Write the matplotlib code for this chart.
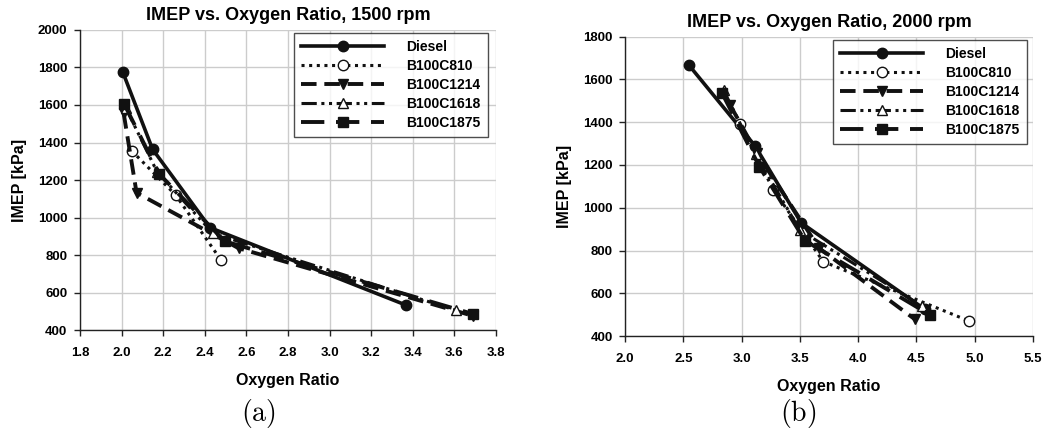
import matplotlib
matplotlib.use("Agg")
import matplotlib.pyplot as plt

plt.rcParams['font.family'] = ['Liberation Sans', 'DejaVu Sans']
plt.rcParams['mathtext.fontset'] = 'cm'

series_names = ["Diesel", "B100C810", "B100C1214", "B100C1618", "B100C1875"]

# 1500 rpm
x1500_diesel = [2.005, 2.149, 2.425, 3.367]
y1500_diesel = [1778, 1364, 946, 533]
x1500_c810 = [2.048, 2.260, 2.478]
y1500_c810 = [1356, 1120, 773]
x1500_c1214 = [2.010, 2.072, 2.563, 3.691]
y1500_c1214 = [1556, 1132, 836, 475]
x1500_c1618 = [2.020, 2.170, 2.440, 3.608]
y1500_c1618 = [1585, 1245, 915, 505]
x1500_c1875 = [2.013, 2.181, 2.496, 3.691]
y1500_c1875 = [1604, 1232, 873, 485]

# 2000 rpm
x2000_diesel = [2.548, 3.116, 3.510, 4.572]
y2000_diesel = [1667, 1289, 930, 525]
x2000_c810 = [2.988, 3.273, 3.701, 4.952]
y2000_c810 = [1392, 1083, 748, 470]
x2000_c1214 = [2.902, 3.130, 3.667, 4.487]
y2000_c1214 = [1480, 1255, 810, 478]
x2000_c1618 = [2.845, 3.120, 3.500, 4.550]
y2000_c1618 = [1550, 1250, 895, 540]
x2000_c1875 = [2.831, 3.153, 3.544, 4.620]
y2000_c1875 = [1538, 1192, 846, 498]

data1500 = [(x1500_diesel, y1500_diesel), (x1500_c810, y1500_c810),
            (x1500_c1214, y1500_c1214), (x1500_c1618, y1500_c1618),
            (x1500_c1875, y1500_c1875)]
data2000 = [(x2000_diesel, y2000_diesel), (x2000_c810, y2000_c810),
            (x2000_c1214, y2000_c1214), (x2000_c1618, y2000_c1618),
            (x2000_c1875, y2000_c1875)]

styles = [
    dict(linestyle='-', lw=2.6, marker='o', ms=7.5, mfc='#111111', mec='#111111'),
    dict(linestyle=(0, (1, 1.5)), lw=2.2, marker='o', ms=7.5, mfc='white', mec='#111111', mew=1.0),
    dict(linestyle=(0, (4, 2)), lw=2.8, marker='v', ms=7.5, mfc='#111111', mec='#111111'),
    dict(linestyle=(0, (5, 1.5, 1, 1.5, 1, 1.5)), lw=2.2, marker='^', ms=7.5, mfc='white', mec='#111111', mew=1.0),
    dict(linestyle=(0, (6, 3)), lw=2.8, marker='s', ms=7, mfc='#111111', mec='#111111'),
]

fig = plt.figure(figsize=(10.51, 4.45), dpi=100)
ax1 = fig.add_axes([0.0761, 0.2584, 0.3958, 0.6742])
ax2 = fig.add_axes([0.5947, 0.2449, 0.3882, 0.6726])

def setup(ax, data, xlim, xticks, ylim, yticks, title, legend_bbox):
    for (xs, ys), name, st in zip(data, series_names, styles):
        ax.plot(xs, ys, color='#111111', label=name, **st)
    ax.set_xlim(*xlim)
    ax.set_ylim(*ylim)
    ax.set_xticks(xticks)
    ax.set_yticks(yticks)
    ax.set_xticklabels([f"{t:.1f}" for t in xticks], fontweight='bold', fontsize=9.5)
    ax.set_yticklabels([f"{t:d}" for t in yticks], fontweight='bold', fontsize=9.5)
    ax.grid(True, color='#cccccc', lw=1.0)
    ax.set_axisbelow(True)
    for s in ['top', 'right']:
        ax.spines[s].set_visible(False)
    for s in ['left', 'bottom']:
        ax.spines[s].set_color('#222222')
        ax.spines[s].set_linewidth(1.0)
    ax.tick_params(direction='out', length=4, width=1, color='#222222')
    ax.tick_params(axis='x', pad=8)
    ax.tick_params(axis='y', pad=5)
    ax.set_title(title, fontweight='bold', fontsize=13, pad=7)
    ax.set_xlabel("Oxygen Ratio", fontweight='bold', fontsize=11.5, labelpad=10)
    ax.set_ylabel("IMEP [kPa]", fontweight='bold', fontsize=11.5, labelpad=8)
    leg = ax.legend(loc='upper left', bbox_to_anchor=legend_bbox, bbox_transform=fig.transFigure,
                    fancybox=False, frameon=True, edgecolor='#222222', handlelength=6.0,
                    handletextpad=1.6, borderpad=0.5, labelspacing=0.36, borderaxespad=0,
                    prop=dict(weight='bold', size=10))
    leg.get_frame().set_linewidth(1.0)

setup(ax1, data1500, (1.8, 3.8), [1.8, 2.0, 2.2, 2.4, 2.6, 2.8, 3.0, 3.2, 3.4, 3.6, 3.8],
      (400, 2000), list(range(400, 2001, 200)), "IMEP vs. Oxygen Ratio, 1500 rpm",
      (294 / 1051, 1 - 33 / 445))
setup(ax2, data2000, (2.0, 5.5), [2.0, 2.5, 3.0, 3.5, 4.0, 4.5, 5.0, 5.5],
      (400, 1800), list(range(400, 1801, 200)), "IMEP vs. Oxygen Ratio, 2000 rpm",
      (833 / 1051, 1 - 40 / 445))

fig.text(258 / 1051, 1 - 413 / 445, r"$\mathrm{(a)}$", ha='center', va='center', fontsize=20)
fig.text(798 / 1051, 1 - 413 / 445, r"$\mathrm{(b)}$", ha='center', va='center', fontsize=20)

fig.savefig("out.png", dpi=100)
